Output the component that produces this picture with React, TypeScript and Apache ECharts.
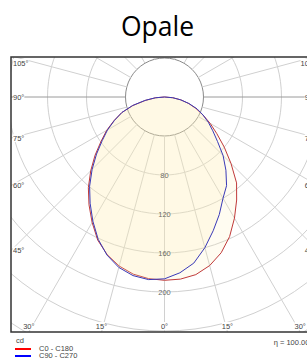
import React, { useEffect, useRef } from "react";
import * as echarts from "echarts";

// ---- data ----
const titleText = "Opale";
const polarAngles = [0, 5, 10, 15, 20, 25, 30, 35, 40, 45, 50, 55, 60, 65, 70, 75, 80, 85, 90];
const c0Values = [188, 187.5, 185, 179, 170, 158, 143.5, 129, 115, 96.5, 80, 65.5, 54, 43.5, 34, 25.5, 17, 8.5, 0];
const c180Values = [188, 187, 184.5, 179.5, 172, 162, 148.5, 135, 121.5, 107, 93, 79.5, 68.5, 57, 46.5, 33.5, 19.5, 9, 0];
const c90Values = [186.5, 181, 173, 160, 146, 133, 120, 111, 98, 85, 71, 60.5, 52, 43.5, 35.5, 26, 17, 8.5, 0];
const c270Values = [189, 188, 186, 181, 172.5, 161, 147, 133, 119.5, 105, 91, 78, 67.5, 56.5, 46.5, 34, 20.5, 9.5, 0];
const ringTicks = [80, 120, 160, 200];
const gridAngles = [0, 15, 30, 45, 60, 75, 90, 105, 120, 135, 150, 165, 180, 195, 210, 225, 240, 255, 270, 285, 300, 315, 330, 345];
const sideLabelAngles = [45, 60, 75, 90, 105];
const bottomLabelAngles = [0, 15, 30];
const legendNames = ["C0 - C180", "C90 - C270"];
const legendColors = ["#ff0000", "#0000ff"];
const unitLabel = "cd";
const efficiencyLabel = "η = 100.00%";

// ---- layout ----
const W = 307;
const H = 358;
const CX = 164.5;
const CY = 97;
const FL = 11;
const FT = 57;
const FR = 318;
const FB = 332;
const RMAX = 320;
const PX_PER_CD = 0.975;
const FONT = "'Liberation Sans', Arial, sans-serif";
const FS = 7.5;

function buildCurve(right: number[], left: number[]) {
  const pts: number[][] = [];
  for (let i = polarAngles.length - 1; i >= 0; i--) pts.push([right[i], polarAngles[i]]);
  for (let i = 1; i < polarAngles.length; i++) pts.push([left[i], 360 - polarAngles[i]]);
  return pts;
}

export default function App() {
  const ref = useRef<HTMLDivElement>(null);
  useEffect(() => {
    if (!ref.current) return;
    const chart = echarts.init(ref.current, undefined, { renderer: "svg" });

    const radialSeries = gridAngles.map((a) => ({
      type: "line",
      coordinateSystem: "polar",
      data: [
        [40, a],
        [RMAX, a],
      ],
      symbol: "none",
      silent: true,
      z: 1,
      lineStyle: { color: a === 90 || a === 270 ? "#9a9a9a" : "#d0d0d0", width: 1 },
    }));

    const fill = "rgba(255, 238, 180, 0.27)";
    const curveSeries = [
      {
        type: "line",
        coordinateSystem: "polar",
        name: legendNames[0],
        data: buildCurve(c0Values, c180Values),
        symbol: "none",
        z: 3,
        lineStyle: { color: "#c03a3a", width: 1 },
        areaStyle: { color: fill },
      },
      {
        type: "line",
        coordinateSystem: "polar",
        name: legendNames[1],
        data: buildCurve(c90Values, c270Values),
        symbol: "none",
        z: 4,
        lineStyle: { color: "#3a3ab8", width: 1 },
        areaStyle: { color: fill },
      },
    ];

    const tickSeries = {
      type: "scatter",
      coordinateSystem: "polar",
      data: ringTicks.map((r) => [r, 0]),
      symbolSize: 0,
      z: 5,
      label: {
        show: true,
        position: "inside",
        formatter: (p: any) => String(p.value[0]),
        fontSize: FS,
        fontFamily: FONT,
        color: "#444",
      },
    };

    const labelStyle = { fontSize: FS, fontFamily: FONT, fill: "#444" };
    const angleTexts: any[] = [];
    const halfW = CX - FL;
    sideLabelAngles.forEach((a) => {
      const rad = (a * Math.PI) / 180;
      let y = CY + (halfW * Math.cos(rad)) / Math.sin(rad);
      y = Math.max(FT + 6, Math.min(FB - 6, y));
      angleTexts.push({
        type: "text",
        z: 101,
        style: { ...labelStyle, text: a + "°", x: FL + 2, y, align: "left", textAlign: "left", verticalAlign: "middle", textVerticalAlign: "middle", backgroundColor: "#fff" },
      });
      angleTexts.push({
        type: "text",
        z: 101,
        style: { ...labelStyle, text: a + "°", x: FR - 2, y, align: "right", textAlign: "right", verticalAlign: "middle", textVerticalAlign: "middle", backgroundColor: "#fff" },
      });
    });
    const halfH = FB - CY;
    bottomLabelAngles.forEach((a) => {
      const dx = halfH * Math.tan((a * Math.PI) / 180);
      const xs = a === 0 ? [CX] : [CX - dx, CX + dx];
      xs.forEach((x) => {
        angleTexts.push({
          type: "text",
          z: 101,
          style: { ...labelStyle, text: a + "°", x, y: FB - 6, align: "center", textAlign: "center", verticalAlign: "middle", textVerticalAlign: "middle", backgroundColor: "#fff" },
        });
      });
    });

    const ringColors = ["#d0d0d0", "#8a8a8a", "#d0d0d0", "#d0d0d0", "#d0d0d0", "#d0d0d0", "#d0d0d0", "#d0d0d0", "#d0d0d0", "#d0d0d0"];

    chart.setOption({
      animation: false,
      polar: { center: [CX, CY], radius: RMAX * PX_PER_CD },
      angleAxis: {
        type: "value",
        min: 0,
        max: 360,
        interval: 15,
        startAngle: -90,
        clockwise: false,
        axisLine: { show: false },
        axisTick: { show: false },
        axisLabel: { show: false },
        splitLine: { show: false },
      },
      radiusAxis: {
        type: "value",
        min: 0,
        max: RMAX,
        interval: 40,
        axisLine: { show: false },
        axisTick: { show: false },
        axisLabel: { show: false },
        splitLine: { show: true, lineStyle: { color: ringColors, width: 1 } },
      },
      series: [...radialSeries, ...curveSeries, tickSeries],
      graphic: [
        { type: "rect", z: 100, silent: true, shape: { x: 0, y: 0, width: W, height: FT }, style: { fill: "#fff" } },
        { type: "rect", z: 100, silent: true, shape: { x: 0, y: 0, width: FL, height: H }, style: { fill: "#fff" } },
        { type: "rect", z: 100, silent: true, shape: { x: 0, y: FB, width: W, height: H - FB }, style: { fill: "#fff" } },
        { type: "rect", z: 100, silent: true, shape: { x: FR, y: 0, width: 40, height: H }, style: { fill: "#fff" } },
        { type: "rect", z: 102, silent: true, shape: { x: FL, y: FT, width: FR - FL, height: FB - FT }, style: { fill: "none", stroke: "#333", lineWidth: 1.5 } },
        ...angleTexts,
        {
          type: "text",
          z: 101,
          style: { text: titleText, x: 157.5, y: 26, align: "center", textAlign: "center", verticalAlign: "middle", textVerticalAlign: "middle", fontSize: 26.5, fontFamily: "'Open Sans', sans-serif", fill: "#000" },
        },
        { type: "text", z: 101, style: { ...labelStyle, text: unitLabel, x: 16, y: 340, verticalAlign: "middle", textVerticalAlign: "middle" } },
        ...legendNames.flatMap((n, i) => [
          { type: "line", z: 101, shape: { x1: 15, y1: 349 + i * 7, x2: 31, y2: 349 + i * 7 }, style: { stroke: legendColors[i], lineWidth: 2 } },
          { type: "text", z: 101, style: { ...labelStyle, text: n, x: 39, y: 348 + i * 7, verticalAlign: "middle", textVerticalAlign: "middle" } },
        ]),
        { type: "text", z: 101, style: { ...labelStyle, text: efficiencyLabel, x: 316, y: 342, align: "right", textAlign: "right", verticalAlign: "middle", textVerticalAlign: "middle" } },
      ],
    });
    return () => chart.dispose();
  }, []);
  return <div ref={ref} style={{ position: "fixed", left: 0, top: 0, width: W, height: H, background: "#fff" }} />;
}
